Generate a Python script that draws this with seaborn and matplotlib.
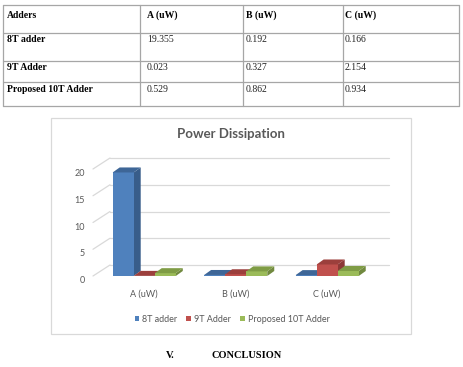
import numpy as np
import pandas as pd
import matplotlib
matplotlib.use("Agg")
import matplotlib.pyplot as plt
from matplotlib.patches import Polygon, Rectangle
from matplotlib.lines import Line2D
import seaborn as sns

# ---- data ----
categories = ["A (uW)", "B (uW)", "C (uW)"]
adders = ["8T adder", "9T Adder", "Proposed 10T Adder"]
vals_8t = [19.355, 0.192, 0.166]
vals_9t = [0.023, 0.327, 2.154]
vals_10t = [0.529, 0.862, 0.934]
table_header = ["Adders", "A (uW)", "B (uW)", "C (uW)"]
table_vals = [["19.355", "0.192", "0.166"],
              ["0.023", "0.327", "2.154"],
              ["0.529", "0.862", "0.934"]]
yticks = [0, 5, 10, 15, 20]

front = ["#4F81BD", "#C0504D", "#9BBB59"]
side = ["#385D8A", "#8C3836", "#71893F"]
top = ["#3E6697", "#9C3F3C", "#7F9C45"]

sns.set_theme(style="white")
W, H = 463, 367
fig = plt.figure(figsize=(W / 100, H / 100), dpi=100)
fig.patch.set_facecolor("white")

def fx(px):
    return px / W

def fy(py):
    return 1 - py / H

# ---- table ----
tcol = "#a6a6a6"
for yy in [5, 33, 61, 82, 106]:
    fig.add_artist(Line2D([fx(3), fx(459)], [fy(yy), fy(yy)], color=tcol, lw=0.9))
for xx in [3, 140, 243, 343, 459]:
    fig.add_artist(Line2D([fx(xx), fx(xx)], [fy(5), fy(106)], color=tcol, lw=0.9))
col_x = [7, 147, 246, 345]
row_y = [15, 40, 67, 89]
serif = "Liberation Serif"
for j, h in enumerate(table_header):
    fig.text(fx(col_x[j]), fy(row_y[0]), h, fontsize=7, fontweight="bold",
             family=serif, va="center", ha="left", color="black")
for i, name in enumerate(adders):
    fig.text(fx(col_x[0]), fy(row_y[i + 1]), name, fontsize=7, fontweight="bold",
             family=serif, va="center", ha="left", color="black")
    for j, v in enumerate(table_vals[i]):
        fig.text(fx(col_x[j + 1]), fy(row_y[i + 1]), v, fontsize=7,
                 family=serif, va="center", ha="left", color="#222222")

# ---- chart frame ----
fig.add_artist(Rectangle((fx(51), fy(334)), fx(411) - fx(51), fy(118) - fy(334),
                         fill=False, edgecolor="#d9d9d9", lw=0.9))
fig.text(fx(231), fy(134), "Power Dissipation", fontsize=9.5, fontweight="bold",
         family="Lato", color="#595959", ha="center", va="center")

# ---- bar chart ----
ax_left, ax_right, ax_bot, ax_top = 93, 372, 276, 169
ax = fig.add_axes([fx(ax_left), fy(ax_bot), fx(ax_right) - fx(ax_left), fy(ax_top) - fy(ax_bot)])
ax.set_facecolor("none")

rows = []
for name, vals in zip(adders, [vals_8t, vals_9t, vals_10t]):
    for c, v in zip(categories, vals):
        rows.append({"cat": c, "adder": name, "val": v})
df = pd.DataFrame(rows)
sns.barplot(data=df, x="cat", y="val", hue="adder", hue_order=adders, order=categories,
            palette=front, saturation=1, width=0.69, ax=ax, legend=False,
            linewidth=0, zorder=3)
xmin, xmax = -0.56, 2.49
ax.set_xlim(xmin, xmax)
ax.set_ylim(0, 20)

px_per_x = (ax_right - ax_left) / (xmax - xmin)
px_per_y = (ax_bot - ax_top) / 20.0
# back wall offsets
gdx, gdy = 17 / px_per_x, 11 / px_per_y
for v in yticks:
    ax.plot([xmin + gdx, xmax + gdx], [v + gdy, v + gdy], color="#d9d9d9", lw=0.9,
            zorder=0, clip_on=False)
    ax.plot([xmin, xmin + gdx], [v, v + gdy], color="#d9d9d9", lw=0.9,
            zorder=0, clip_on=False)

# 3-D faces
bdx, bdy = 7 / px_per_x, 5 / px_per_y
patches = list(ax.patches)
n = len(categories)
for k, p in enumerate(patches):
    hi = k // n
    ci = k % n
    x0, w, h = p.get_x(), p.get_width(), p.get_height()
    z = 3 + ci * 10 + hi * 2
    p.set_zorder(z)
    p.set_clip_on(False)
    topf = Polygon([(x0, h), (x0 + w, h), (x0 + w + bdx, h + bdy), (x0 + bdx, h + bdy)],
                   closed=True, facecolor=top[hi], edgecolor="none", zorder=z, clip_on=False)
    sidef = Polygon([(x0 + w, 0), (x0 + w + bdx, bdy), (x0 + w + bdx, h + bdy), (x0 + w, h)],
                    closed=True, facecolor=side[hi], edgecolor="none", zorder=z - 0.5, clip_on=False)
    ax.add_patch(topf)
    ax.add_patch(sidef)

for s in ax.spines.values():
    s.set_visible(False)
ax.set_yticks(yticks)
ax.set_yticklabels([str(v) for v in yticks])
ax.tick_params(axis="y", length=0, pad=6, labelsize=6.5, labelcolor="#595959")
ax.tick_params(axis="x", length=0, pad=10, labelsize=6.5, labelcolor="#595959")
for lab in ax.get_xticklabels() + ax.get_yticklabels():
    lab.set_family("Lato")
for lab in ax.get_yticklabels():
    lab.set_va("top")
ax.set_xlabel("")
ax.set_ylabel("")
ax.grid(False)

handles = [Rectangle((0, 0), 1, 1, facecolor=c, edgecolor="none") for c in front]
leg = fig.legend(handles, adders, loc="center", bbox_to_anchor=(fx(232), fy(319)),
                 ncol=3, frameon=False, handlelength=0.55, handleheight=0.55,
                 handletextpad=0.3, columnspacing=1.0, prop={"family": "Lato", "size": 6.5})
for t in leg.get_texts():
    t.set_color("#595959")

# ---- conclusion heading ----
fig.text(fx(166), fy(356), "V.", fontsize=7.5, fontweight="bold", family=serif,
         ha="left", va="center", color="black")
fig.text(fx(212), fy(356), "CONCLUSION", fontsize=7.5, fontweight="bold", family=serif,
         ha="left", va="center", color="black")

fig.savefig("out.png", dpi=100, facecolor="white")
